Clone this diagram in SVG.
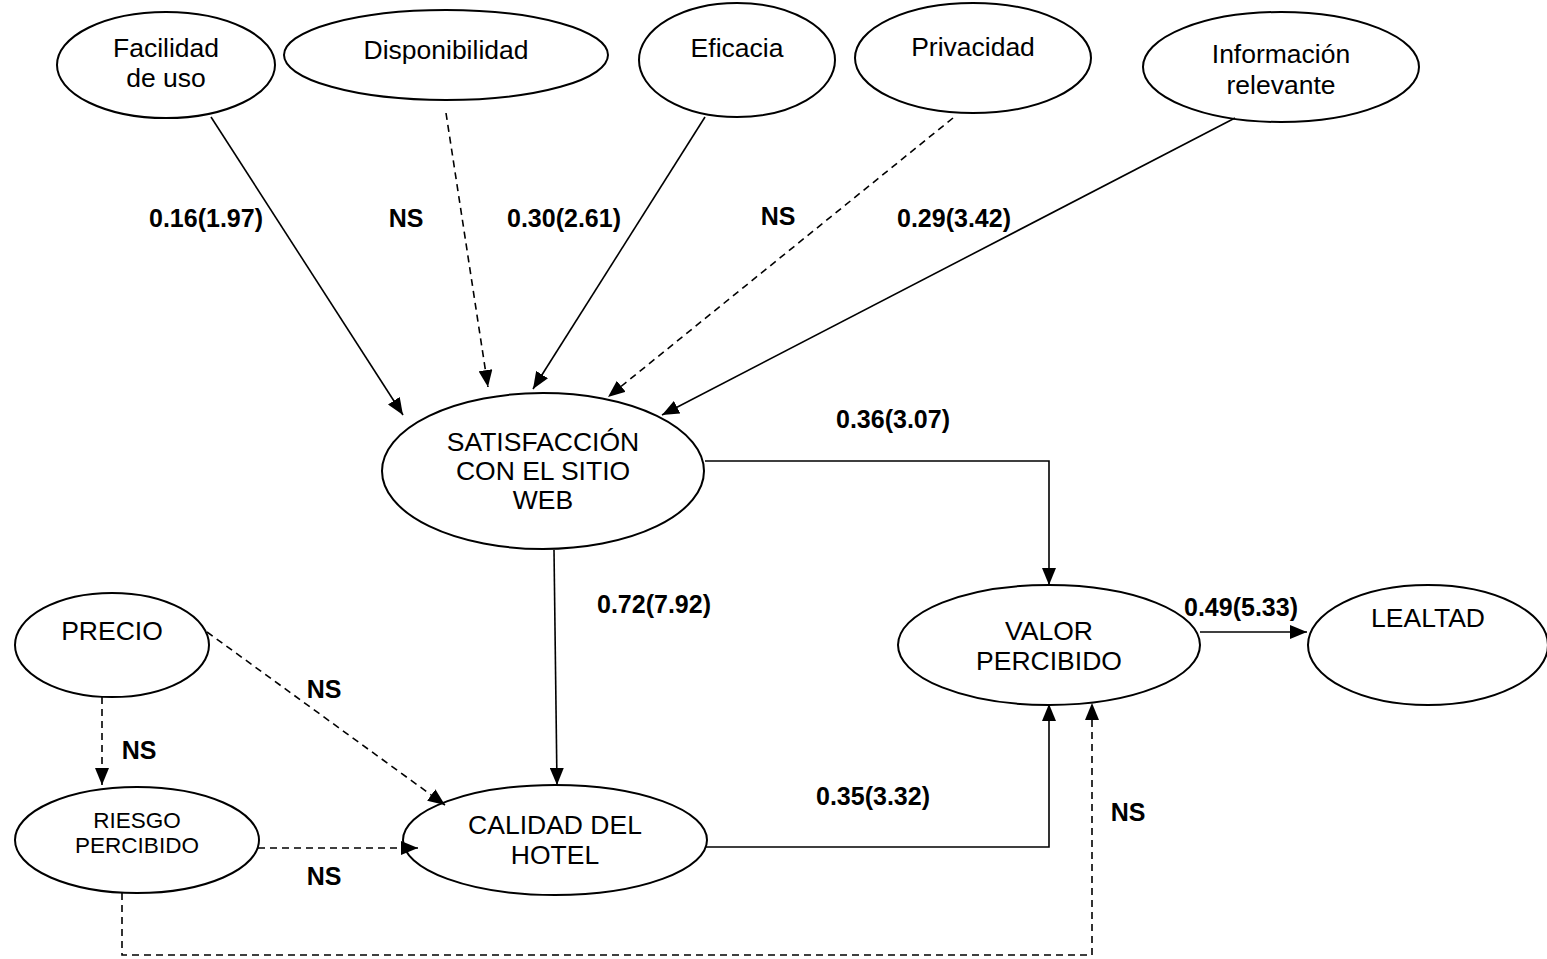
<svg xmlns="http://www.w3.org/2000/svg" width="1547" height="959" viewBox="0 0 1547 959">
<defs>
<marker id="ah" markerUnits="userSpaceOnUse" markerWidth="18" markerHeight="14" refX="17" refY="7" orient="auto">
<path d="M0,0 L17,7 L0,14 Z" fill="#000"/>
</marker>
<style>
.node ellipse{fill:#fff;stroke:#000;stroke-width:2}
.node text{font-family:"Liberation Sans",Arial,sans-serif;font-size:26.5px;fill:#000;text-anchor:middle}
.node text.sm{font-size:22.5px}
.c{fill:none;stroke:#000;stroke-width:1.6;marker-end:url(#ah)}
.d{stroke-dasharray:7,5}
.lbl{font-family:"Liberation Sans",Arial,sans-serif;font-size:25px;font-weight:bold;fill:#000;text-anchor:middle}
</style>
</defs>
<rect width="1547" height="959" fill="#fff"/>
<g id="n-facilidad" class="node"><ellipse cx="166" cy="65" rx="109" ry="53"/><text x="166" y="57">Facilidad</text><text x="166" y="87">de uso</text></g>
<g id="n-disponibilidad" class="node"><ellipse cx="446" cy="55" rx="162" ry="45"/><text x="446" y="59">Disponibilidad</text></g>
<g id="n-eficacia" class="node"><ellipse cx="737" cy="60" rx="98" ry="57"/><text x="737" y="57">Eficacia</text></g>
<g id="n-privacidad" class="node"><ellipse cx="973" cy="58" rx="118" ry="55"/><text x="973" y="56">Privacidad</text></g>
<g id="n-informacion" class="node"><ellipse cx="1281" cy="67" rx="138" ry="55"/><text x="1281" y="63">Información</text><text x="1281" y="94">relevante</text></g>
<g id="n-satisfaccion" class="node"><ellipse cx="543" cy="471" rx="161" ry="78"/><text x="543" y="451">SATISFACCIÓN</text><text x="543" y="480">CON EL SITIO</text><text x="543" y="509">WEB</text></g>
<g id="n-precio" class="node"><ellipse cx="112" cy="645" rx="97" ry="52"/><text x="112" y="640">PRECIO</text></g>
<g id="n-riesgo" class="node"><ellipse cx="137" cy="840" rx="122" ry="53"/><text class="sm" x="137" y="828">RIESGO</text><text class="sm" x="137" y="853">PERCIBIDO</text></g>
<g id="n-calidad" class="node"><ellipse cx="555" cy="840" rx="152" ry="55"/><text x="555" y="834">CALIDAD DEL</text><text x="555" y="864">HOTEL</text></g>
<g id="n-valor" class="node"><ellipse cx="1049" cy="645" rx="151" ry="60"/><text x="1049" y="640">VALOR</text><text x="1049" y="670">PERCIBIDO</text></g>
<g id="n-lealtad" class="node"><ellipse cx="1428" cy="645" rx="120" ry="60"/><text x="1428" y="627">LEALTAD</text></g>
<g id="connectors">
<path class="c" d="M211,117 L403,415"/>
<path class="c d" d="M446,113 L488,387"/>
<path class="c" d="M705,117 L533,389"/>
<path class="c d" d="M953,118 L608,397"/>
<path class="c" d="M1235,118 L662,415"/>
<path class="c" d="M705,461 L1049,461 L1049,585"/>
<path class="c" d="M554,550 L557,785"/>
<path class="c" d="M706,847 L1049,847 L1049,704"/>
<path class="c d" d="M122,893 L122,955 L1092,955 L1092,703"/>
<path class="c" d="M1200,632 L1307,632"/>
<path class="c d" d="M102,697 L102,785"/>
<path class="c d" d="M207,632 L445,805"/>
<path class="c d" d="M258,848 L418,848"/>
</g>
<g id="labels">
<text class="lbl" x="206" y="227">0.16(1.97)</text>
<text class="lbl" x="406" y="227">NS</text>
<text class="lbl" x="564" y="227">0.30(2.61)</text>
<text class="lbl" x="778" y="225">NS</text>
<text class="lbl" x="954" y="227">0.29(3.42)</text>
<text class="lbl" x="893" y="428">0.36(3.07)</text>
<text class="lbl" x="654" y="613">0.72(7.92)</text>
<text class="lbl" x="1241" y="616">0.49(5.33)</text>
<text class="lbl" x="324" y="698">NS</text>
<text class="lbl" x="139" y="759">NS</text>
<text class="lbl" x="873" y="805">0.35(3.32)</text>
<text class="lbl" x="1128" y="821">NS</text>
<text class="lbl" x="324" y="885">NS</text>
</g>
</svg>
